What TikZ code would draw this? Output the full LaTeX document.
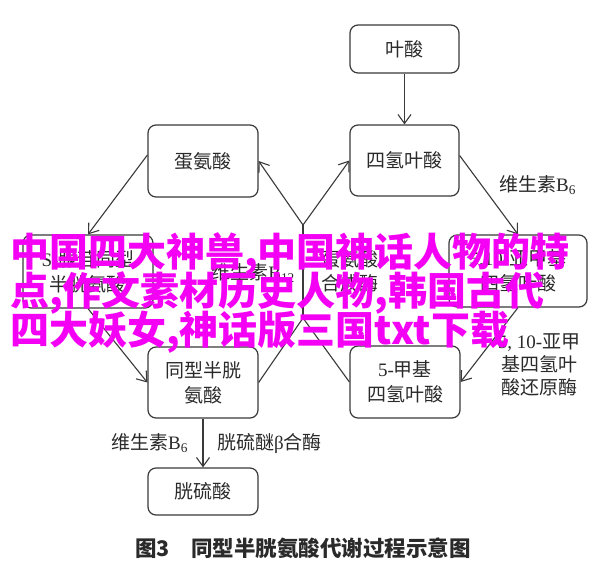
\documentclass[tikz,border=0pt]{standalone}
\usepackage{fontspec}
\setmainfont{Liberation Serif}
\newfontfamily\cjk{Noto Sans CJK SC}
\usetikzlibrary{arrows.meta}
\newcommand\zh[1]{{\cjk #1}}
\definecolor{ink}{HTML}{3A3A3A}
\definecolor{txt}{HTML}{2A2A2A}
\definecolor{wm}{HTML}{F400F4}
\begin{document}
\begin{tikzpicture}[x=1pt,y=-1pt,
  box/.style={draw=ink, line width=1.2pt, rounded corners=8pt, inner sep=0pt,
    align=center, text=txt, font=\fontsize{19}{25}\selectfont},
  lbl/.style={inner sep=0pt, align=center, text=txt, font=\fontsize{19}{24}\selectfont},
  arr/.style={draw=ink, line width=1.1pt, -{Straight Barb[length=9pt,width=13pt,line width=1.1pt]}},
  plain/.style={draw=ink, line width=1.1pt},
  wmtext/.style={inner sep=0pt, text=wm, font=\cjk\bfseries\fontsize{39}{40}\selectfont}]
\useasboundingbox[fill=white] (0,0) rectangle (600,574);
% boxes
\node[box, minimum width=109pt, minimum height=48pt] (ys) at (404.5,49) {\zh{叶酸}};
\node[box, minimum width=109pt, minimum height=71pt] (thf) at (404.5,160.5) {\zh{四氢叶酸}};
\node[box, minimum width=110pt, minimum height=72pt] (met) at (203,161) {\zh{蛋氨酸}};
\node[box, minimum width=130pt, minimum height=73pt] (sah) at (88,271.5) {S-\zh{腺苷同型}\\\zh{半胱氨酸}};
\node[box, minimum width=138pt, minimum height=72pt] (mthf) at (518,271) {5,10-\zh{亚甲基}\\\zh{四氢叶酸}};
\node[box, minimum width=110pt, minimum height=71pt] (hcy) at (203,382.5) {\zh{同型半胱}\\\zh{氨酸}};
\node[box, minimum width=110pt, minimum height=72pt] (me) at (405,382) {5-\zh{甲基}\\\zh{四氢叶酸}};
\node[box, minimum width=110pt, minimum height=47pt] (cys) at (203,491.5) {\zh{胱硫酸}};
% junctions
\coordinate (j1) at (303,225);
\coordinate (j2) at (303,318);
% connectors
\draw[arr] (ys) -- (thf);
\draw[arr] (j1) -- (met.east);
\draw[arr] (j1) -- (thf.west);
\draw[plain] (j2) -- (j1);
\draw[plain] (hcy.east) -- (j2);
\draw[plain] (me.west) -- (j2);
\draw[arr] ([yshift=6pt]met.west) -- (sah.north);
\draw[arr] (sah.south) -- (hcy.west);
\draw[arr] ([yshift=5pt]thf.east) -- (mthf.north);
\draw[arr] (mthf.south) -- (me.east);
\draw[arr] (hcy) -- (cys);
% labels
\node[lbl, anchor=east] (b12) at (295,273) {\zh{维生素}B\textsubscript{12}};
\node[lbl] (ms) at (350,271) {\zh{蛋氨酸}\\\zh{合成酶}};
\node[lbl, anchor=west] (b6a) at (499,185) {\zh{维生素}B\textsubscript{6}};
\node[lbl, font=\fontsize{19}{23}\selectfont] (mthfr) at (539,365) {5, 10-\zh{亚甲}\\\zh{基四氢叶}\\\zh{酸还原酶}};
\node[lbl, anchor=west] (b6b) at (111,443) {\zh{维生素}B\textsubscript{6}};
\node[lbl, anchor=west] (cbs) at (217,443) {\zh{胱硫醚}β\zh{合酶}};
\node[inner sep=0pt, text=txt, font=\cjk\bfseries\fontsize{21.5}{24}\selectfont] (cap) at (303,548) {图3\hspace{1em}同型半胱氨酸代谢过程示意图};
% overlaid magenta text
\node[wmtext, anchor=base west] (wm1) at (10,266) {中国四大神兽,中国神话人物的特};
\node[wmtext, anchor=base west] (wm2) at (10,305) {点,作文素材历史人物,韩国古代};
\node[wmtext, anchor=base west] (wm3) at (10,344) {四大妖女,神话版三国txt下载};
\end{tikzpicture}
\end{document}
